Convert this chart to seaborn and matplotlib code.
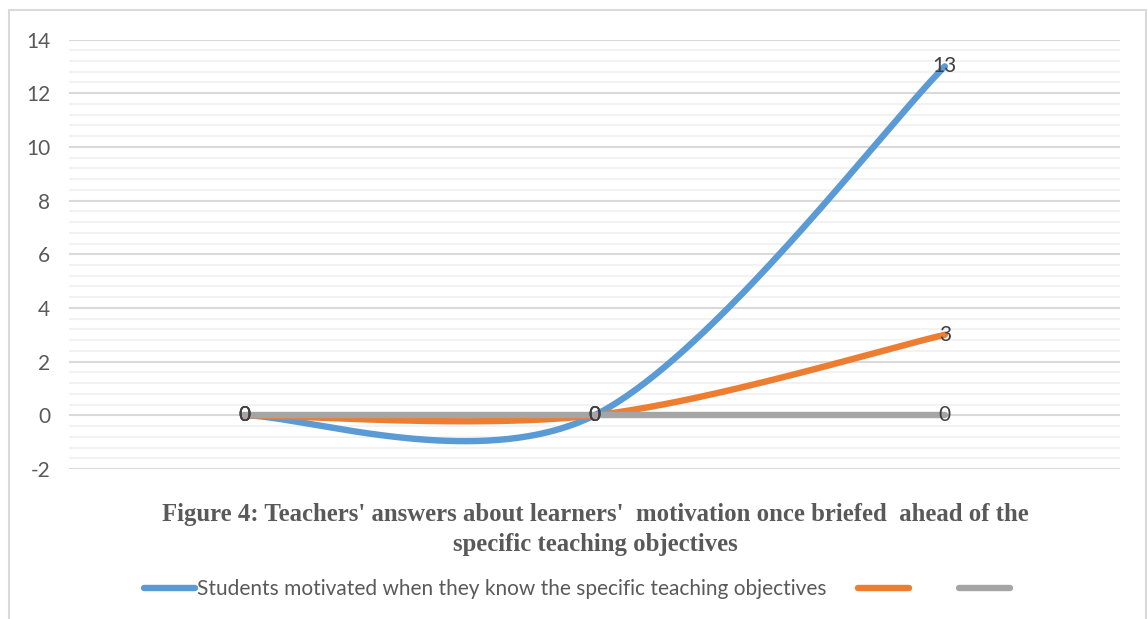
import numpy as np
import pandas as pd
import matplotlib
matplotlib.use("Agg")
import matplotlib.pyplot as plt
from matplotlib.lines import Line2D
from matplotlib.patches import Rectangle
import seaborn as sns

# ---- data ----
categories = ["A", "B", "C"]
series_names = ["Students motivated when they know the specific teaching objectives", "   ", ""]
blue_values = [0, 0, 13]
orange_values = [0, 0, 3]
gray_values = [0, 0, 0]
y_ticks = [-2, 0, 2, 4, 6, 8, 10, 12, 14]
title_lines = ["Figure 4: Teachers' answers about learners'  motivation once briefed  ahead of the",
               "specific teaching objectives"]

colors = ["#5B9BD5", "#ED7D31", "#A5A5A5"]

sns.set_style("white")
plt.rcParams["font.family"] = ["Lato", "DejaVu Sans"]

fig = plt.figure(figsize=(11.48, 6.19), dpi=100)
W, H = 1148, 619
ax = fig.add_axes([69 / W, 1 - 469 / H, (1120 - 69) / W, (469 - 39.5) / H])


def excel_smooth(xs, ys, n=120):
    pts = np.column_stack([xs, ys]).astype(float)
    out = []
    m = len(pts)
    for i in range(m - 1):
        p0 = pts[i]
        p1 = pts[i + 1]
        pm = pts[i - 1] if i > 0 else pts[i]
        pn = pts[i + 2] if i + 2 < m else pts[i + 1]
        c1 = p0 + (p1 - pm) / 6.0
        c2 = p1 - (pn - p0) / 6.0
        t = np.linspace(0, 1, n)[:, None]
        b = ((1 - t) ** 3) * p0 + 3 * ((1 - t) ** 2) * t * c1 + 3 * (1 - t) * t ** 2 * c2 + t ** 3 * p1
        out.append(b if i == 0 else b[1:])
    out = np.vstack(out)
    return out[:, 0], out[:, 1]


xpos = np.arange(len(categories)) + 0.5
all_series = [blue_values, orange_values, gray_values]
for k, (vals, col) in enumerate(zip(all_series, colors)):
    sx, sy = excel_smooth(xpos, vals)
    df = pd.DataFrame({"x": sx, "y": sy})
    sns.lineplot(data=df, x="x", y="y", sort=False, estimator=None, color=col,
                 linewidth=4.6, ax=ax, solid_capstyle="round", zorder=3 + k)

# data labels
for vals in all_series:
    for x, v in zip(xpos, vals):
        ax.text(x, v, f"{v:g}", ha="center", va="center", fontsize=15,
                color="#404040", zorder=10)

ax.set_xlim(0, len(categories))
ax.set_ylim(-2, 14)
ax.set_yticks(y_ticks)
ax.set_yticklabels([str(t) for t in y_ticks])
ax.set_xticks([])
ax.grid(False)
for t in np.arange(-2, 14.01, 0.4):
    if abs(round(t / 2) * 2 - t) < 1e-6:
        ax.axhline(t, color="#D9D9D9", lw=1.5, zorder=1)
    else:
        ax.axhline(t, color="#F2F2F2", lw=1.5, zorder=0.5)
ax.tick_params(axis="y", which="both", length=0, pad=13.5, labelsize=15, labelcolor="#595959")
ax.set_xlabel("")
ax.set_ylabel("")
for s in ax.spines.values():
    s.set_visible(False)

# title
for i, line in enumerate(title_lines):
    fig.text(595 / W, 1 - (515 + 30 * i) / H, line, ha="center", va="center",
             fontsize=17.8, fontweight="bold", color="#595959",
             family=["Liberation Serif", "DejaVu Serif"])

# legend
handles = [Line2D([0], [0], color=c, lw=4.6, solid_capstyle="round") for c in colors]
leg = fig.legend(handles, series_names, loc="center", bbox_to_anchor=(578 / W, 1 - 589 / H),
                 ncol=3, frameon=False, fontsize=15, handlelength=2.45, handletextpad=0.1,
                 columnspacing=1.5, labelcolor="#595959")

# outer border
fig.patches.append(Rectangle((9 / W, -0.05), (1146 - 9) / W, 1.05 - 10 / H,
                             transform=fig.transFigure, fill=False, edgecolor="#D9D9D9", lw=1.5))

fig.savefig("out.png", dpi=100)
